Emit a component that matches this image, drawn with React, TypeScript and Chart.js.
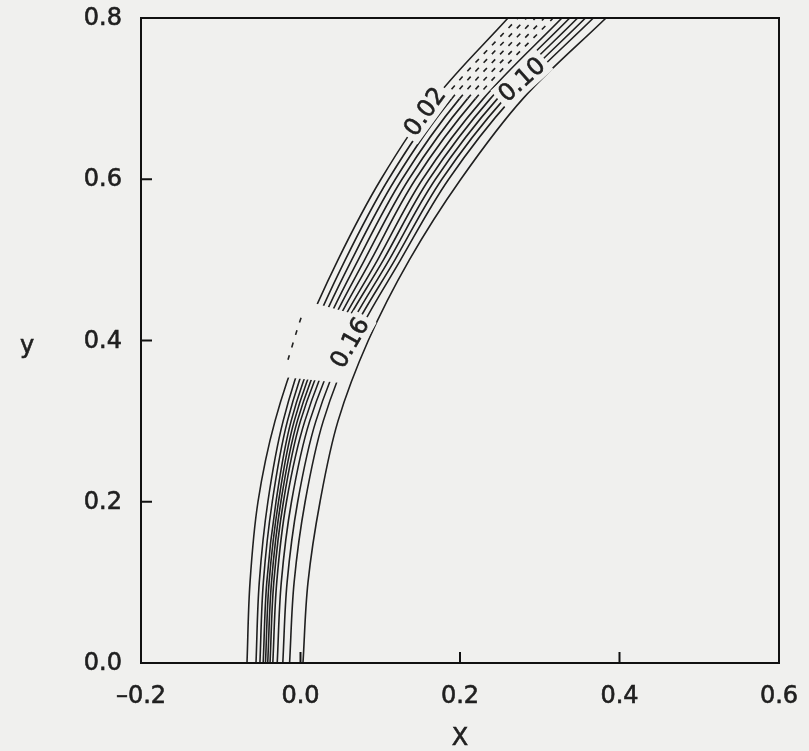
import React, { useEffect, useRef } from 'react';
import { Chart, registerables } from 'chart.js';

Chart.register(...registerables);

// ---- data ----
const yLevels = [0, 0.1, 0.2, 0.3, 0.4, 0.5, 0.6, 0.7, 0.8];

// x position of each contour line at the y levels above (left to right)
const contour01 = [-0.0671, -0.0633, -0.0533, -0.0320, 0.0019, 0.0470, 0.1009, 0.1687, 0.2602];
const contour02 = [-0.0558, -0.0517, -0.0409, -0.0218, 0.0105, 0.0561, 0.1103, 0.1797, 0.2725];
const contour03 = [-0.0509, -0.0466, -0.0354, -0.0164, 0.0169, 0.0642, 0.1189, 0.1896, 0.2835];
const contour04 = [-0.0468, -0.0423, -0.0307, -0.0118, 0.0232, 0.0724, 0.1273, 0.1995, 0.2945];
const contour05 = [-0.0439, -0.0394, -0.0276, -0.0079, 0.0287, 0.0804, 0.1358, 0.2095, 0.3057];
const contour06 = [-0.0411, -0.0364, -0.0246, -0.0040, 0.0342, 0.0885, 0.1442, 0.2194, 0.3168];
const contour07 = [-0.0382, -0.0335, -0.0214, -0.0001, 0.0398, 0.0967, 0.1530, 0.2293, 0.3278];
const contour08 = [-0.0347, -0.0298, -0.0176, 0.0054, 0.0454, 0.1040, 0.1612, 0.2381, 0.3376];
const contour09 = [-0.0292, -0.0241, -0.0113, 0.0115, 0.0525, 0.1111, 0.1692, 0.2470, 0.3475];
const contour10 = [-0.0222, -0.0168, -0.0035, 0.0193, 0.0595, 0.1184, 0.1773, 0.2558, 0.3573];
const contour11 = [-0.0137, -0.0080, 0.0058, 0.0285, 0.0680, 0.1255, 0.1858, 0.2647, 0.3672];
const contour12 = [0.0031, 0.0094, 0.0245, 0.0470, 0.0850, 0.1365, 0.2010, 0.2790, 0.3831];

const contourXs = [
  contour01, contour02, contour03, contour04, contour05, contour06,
  contour07, contour08, contour09, contour10, contour11, contour12,
];

// small dashed contour fragment beside the 0.16 label
const fragmentX = [-0.0157, -0.0044, 0.0019];
const fragmentY = [0.376, 0.4127, 0.4318];

// label gap in the contour bundle around the 0.16 label
const gapX = [-0.0219, 0.0508, 0.0897, 0.0119];
const gapY = [0.3548, 0.3474, 0.4268, 0.4479];

// contour labels
const contourLabelText = ['0.02', '0.10', '0.16'];
const contourLabelX = [0.1561, 0.2777, 0.0621];
const contourLabelY = [0.6836, 0.7233, 0.397];

// axes
const xTickValues = [-0.2, 0.0, 0.2, 0.4, 0.6];
const yTickValues = [0.0, 0.2, 0.4, 0.6, 0.8];
const xTitle = 'X';
const yTitle = 'y';

// ---- styles ----
const BG = '#f0f0ee';
const INK = '#202020';
const FONT = '"DejaVu Sans", "Liberation Sans", sans-serif';
const labelAngles = [-54, -42, -60];

const fmt = (v: number) => {
  const s = Math.abs(v) < 1e-9 ? '0.0' : Number(v).toFixed(1);
  return s.replace('-', '\u2013');
};

const heavyText = (ctx: CanvasRenderingContext2D, t: string, x: number, y: number) => {
  ctx.fillText(t, x, y);
  ctx.lineWidth = 0.6;
  ctx.strokeText(t, x, y);
};

const decorPlugin = {
  id: 'decor',
  beforeDatasetDraw(chart: any, args: any) {
    const ds = chart.data.datasets[args.index];
    if (!ds.gapClip) return;
    const { ctx, scales } = chart;
    ctx.save();
    ctx.beginPath();
    ctx.rect(0, 0, chart.width, chart.height);
    gapX.forEach((gx, i) => {
      const px = scales.x.getPixelForValue(gx);
      const py = scales.y.getPixelForValue(gapY[i]);
      if (i === 0) ctx.moveTo(px, py);
      else ctx.lineTo(px, py);
    });
    ctx.closePath();
    ctx.clip('evenodd');
  },
  afterDatasetDraw(chart: any, args: any) {
    const ds = chart.data.datasets[args.index];
    if (ds.gapClip) chart.ctx.restore();
  },
  afterDatasetsDraw(chart: any) {
    const { ctx, chartArea: a, scales } = chart;
    // contour labels with a paper-coloured mask
    contourLabelText.forEach((t, i) => {
      const px = scales.x.getPixelForValue(contourLabelX[i]);
      const py = scales.y.getPixelForValue(contourLabelY[i]);
      ctx.save();
      ctx.translate(px, py);
      ctx.rotate((labelAngles[i] * Math.PI) / 180);
      ctx.font = `24px ${FONT}`;
      const w = ctx.measureText(t).width;
      ctx.fillStyle = BG;
      ctx.fillRect(-w / 2 - 4, -13, w + 8, 26);
      ctx.fillStyle = INK;
      ctx.strokeStyle = INK;
      ctx.textAlign = 'center';
      ctx.textBaseline = 'middle';
      heavyText(ctx, t, 0, 1);
      ctx.restore();
    });
    // frame
    ctx.save();
    ctx.strokeStyle = '#111';
    ctx.lineWidth = 2;
    ctx.strokeRect(a.left, a.top, a.right - a.left, a.bottom - a.top);
    // inward tick marks
    ctx.beginPath();
    xTickValues.forEach((v) => {
      const px = scales.x.getPixelForValue(v);
      if (px <= a.left + 1 || px >= a.right - 1) return;
      ctx.moveTo(px, a.bottom);
      ctx.lineTo(px, a.bottom - 11);
    });
    yTickValues.forEach((v) => {
      const py = scales.y.getPixelForValue(v);
      if (py <= a.top + 1 || py >= a.bottom - 1) return;
      ctx.moveTo(a.left, py);
      ctx.lineTo(a.left + 11, py);
    });
    ctx.stroke();
    // tick labels
    ctx.fillStyle = INK;
    ctx.strokeStyle = INK;
    ctx.font = `24px ${FONT}`;
    ctx.textBaseline = 'middle';
    ctx.textAlign = 'center';
    xTickValues.forEach((v) => {
      heavyText(ctx, fmt(v), scales.x.getPixelForValue(v), 697);
    });
    ctx.textAlign = 'right';
    yTickValues.forEach((v) => {
      heavyText(ctx, fmt(v), 122, scales.y.getPixelForValue(v) + 1);
    });
    // axis titles
    ctx.textAlign = 'center';
    heavyText(ctx, xTitle, (a.left + a.right) / 2, 739);
    heavyText(ctx, yTitle, 27, (a.top + a.bottom) / 2 + 6);
    ctx.restore();
  },
};

export default function App() {
  const ref = useRef<HTMLCanvasElement | null>(null);

  useEffect(() => {
    if (!ref.current) return;
    const datasets: any[] = contourXs.map((xs, i) => ({
      label: `contour ${i + 1}`,
      data: xs.map((x, k) => ({ x, y: yLevels[k] })),
      showLine: true,
      pointRadius: 0,
      borderColor: INK,
      borderWidth: 1.6,
      tension: 0.35,
      fill: false,
      gapClip: i < contourXs.length - 1,
      segment: {
        borderDash: (c: any) =>
          i >= 1 && i <= 5 && c.p0.parsed.y > 0.69 ? [5, 7] : undefined,
      },
    }));
    datasets.push({
      label: 'fragment',
      data: fragmentX.map((x, k) => ({ x, y: fragmentY[k] })),
      showLine: true,
      pointRadius: 0,
      borderColor: INK,
      borderWidth: 1.6,
      borderDash: [5, 8],
      tension: 0.3,
      fill: false,
    });

    const chart = new Chart(ref.current, {
      type: 'scatter',
      data: { datasets },
      options: {
        animation: false,
        responsive: false,
        events: [],
        layout: { padding: { left: 0, right: 30, top: 18, bottom: 0 } },
        plugins: { legend: { display: false }, tooltip: { enabled: false } },
        scales: {
          x: {
            type: 'linear',
            min: -0.2,
            max: 0.6,
            grid: { display: false },
            border: { display: false },
            ticks: { display: false },
            afterFit: (s: any) => {
              s.height = 88;
            },
          },
          y: {
            type: 'linear',
            min: 0,
            max: 0.8,
            grid: { display: false },
            border: { display: false },
            ticks: { display: false },
            afterFit: (s: any) => {
              s.width = 141;
            },
          },
        },
      },
      plugins: [decorPlugin],
    } as any);
    return () => chart.destroy();
  }, []);

  return (
    <div style={{ position: 'fixed', left: 0, top: 0, width: 809, height: 751, background: BG }}>
      <canvas ref={ref} width={809} height={751} />
    </div>
  );
}
